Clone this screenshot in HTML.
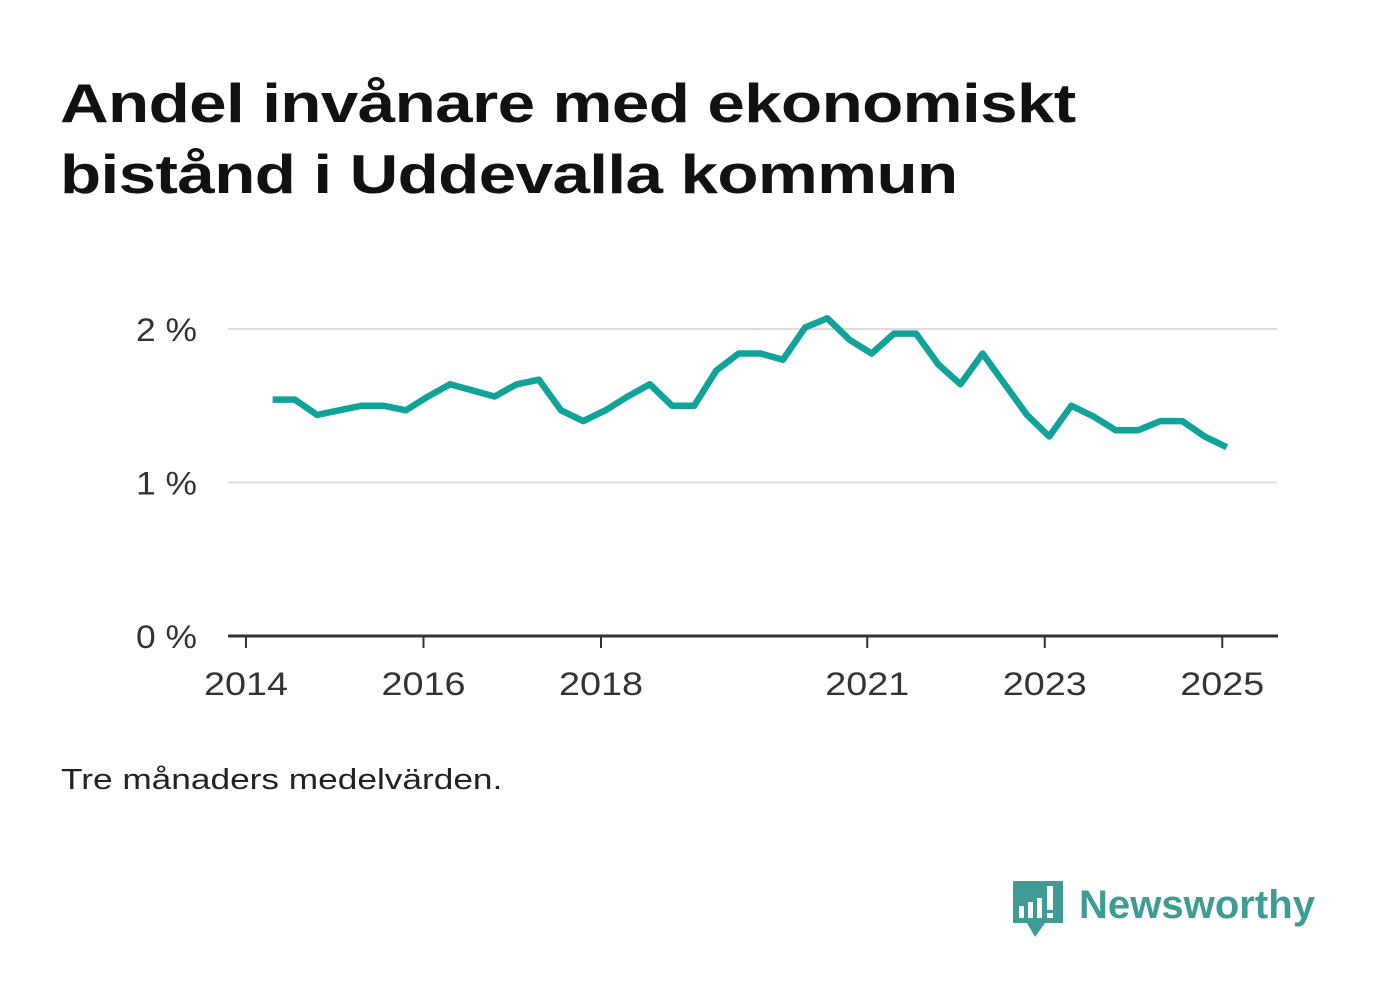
<!DOCTYPE html>
<html><head><meta charset="utf-8"><style>
body{margin:0;background:#fff;width:1382px;height:999px;overflow:hidden;font-family:"Liberation Sans",sans-serif}
h1{position:absolute;left:60px;top:68px;margin:0;font-size:55px;line-height:71px;font-weight:bold;color:#111;letter-spacing:-0.5px;transform:scaleX(1.225);transform-origin:0 0;white-space:nowrap}
.note{position:absolute;left:61px;top:764px;font-size:29px;color:#222;transform:scaleX(1.215);transform-origin:0 0;white-space:nowrap}
</style></head><body>
<h1>Andel invånare med ekonomiskt<br>bistånd i Uddevalla kommun</h1>
<svg id="chart" width="1382" height="999" style="position:absolute;left:0;top:0"></svg>
<div class="note">Tre månaders medelvärden.</div>
<svg width="320" height="80" style="position:absolute;left:1005px;top:870px">
<path d="M8 11h50v42H40l-10 14-8-14H8z" fill="#3e9c95"/>
<rect x="14" y="36" width="5" height="12" fill="#fff"/><rect x="23" y="32" width="5" height="16" fill="#fff"/><rect x="32" y="28" width="5" height="20" fill="#fff"/><rect x="42" y="16" width="6" height="24" fill="#fff"/><rect x="42" y="43" width="6" height="5" fill="#fff"/>
<text x="74" y="48" font-family="Liberation Sans,sans-serif" font-size="40" font-weight="bold" fill="#3e9c95" textLength="236" lengthAdjust="spacingAndGlyphs">Newsworthy</text>
</svg>
<script>
const values=[1.54,1.54,1.44,1.47,1.50,1.50,1.47,1.56,1.64,1.60,1.56,1.64,1.67,1.47,1.40,1.47,1.56,1.64,1.50,1.50,1.73,1.84,1.84,1.80,2.01,2.07,1.93,1.84,1.97,1.97,1.77,1.64,1.84,1.64,1.44,1.30,1.50,1.43,1.34,1.34,1.40,1.40,1.30,1.23];
const startYear=2014.3;
const xTicks=[2014,2016,2018,2021,2023,2025];
const yTicks=[0,1,2];
const NS="http://www.w3.org/2000/svg";
const svg=document.getElementById('chart');
const x=t=>246+(t-2014)*88.75;
const y=v=>636-v*153.5;
function mk(tag,attrs){const e=document.createElementNS(NS,tag);for(const k in attrs)e.setAttribute(k,attrs[k]);svg.appendChild(e);return e;}
yTicks.forEach(v=>{
  if(v>0){const g=mk('line',{x1:228,x2:1277,y1:y(v),y2:y(v),stroke:'#ddd','stroke-width':2});
  
  }
  const t=mk('text',{x:197,y:y(v)+12,'text-anchor':'end','font-size':32,fill:'#333','font-family':'Liberation Sans,sans-serif',textLength:61,lengthAdjust:'spacingAndGlyphs'});
  t.textContent=v+' %';
  
  
});
const ax=mk('line',{x1:228,x2:1278,y1:636,y2:636,stroke:'#333','stroke-width':3});


xTicks.forEach(yr=>{
  const tk=mk('line',{x1:x(yr),x2:x(yr),y1:636,y2:648,stroke:'#333','stroke-width':2});
  
  
  const t=mk('text',{x:x(yr),y:695,'text-anchor':'middle','font-size':32,fill:'#333','font-family':'Liberation Sans,sans-serif',textLength:84,lengthAdjust:'spacingAndGlyphs'});
  t.textContent=yr;
  
  
});
const pts=values.map((v,i)=>x(startYear+i*0.25)+','+y(v)).join(' ');
const line=mk('polyline',{points:pts,fill:'none',stroke:'#0fa39a','stroke-width':6.5,'stroke-linejoin':'round'});


</script>
</body></html>
